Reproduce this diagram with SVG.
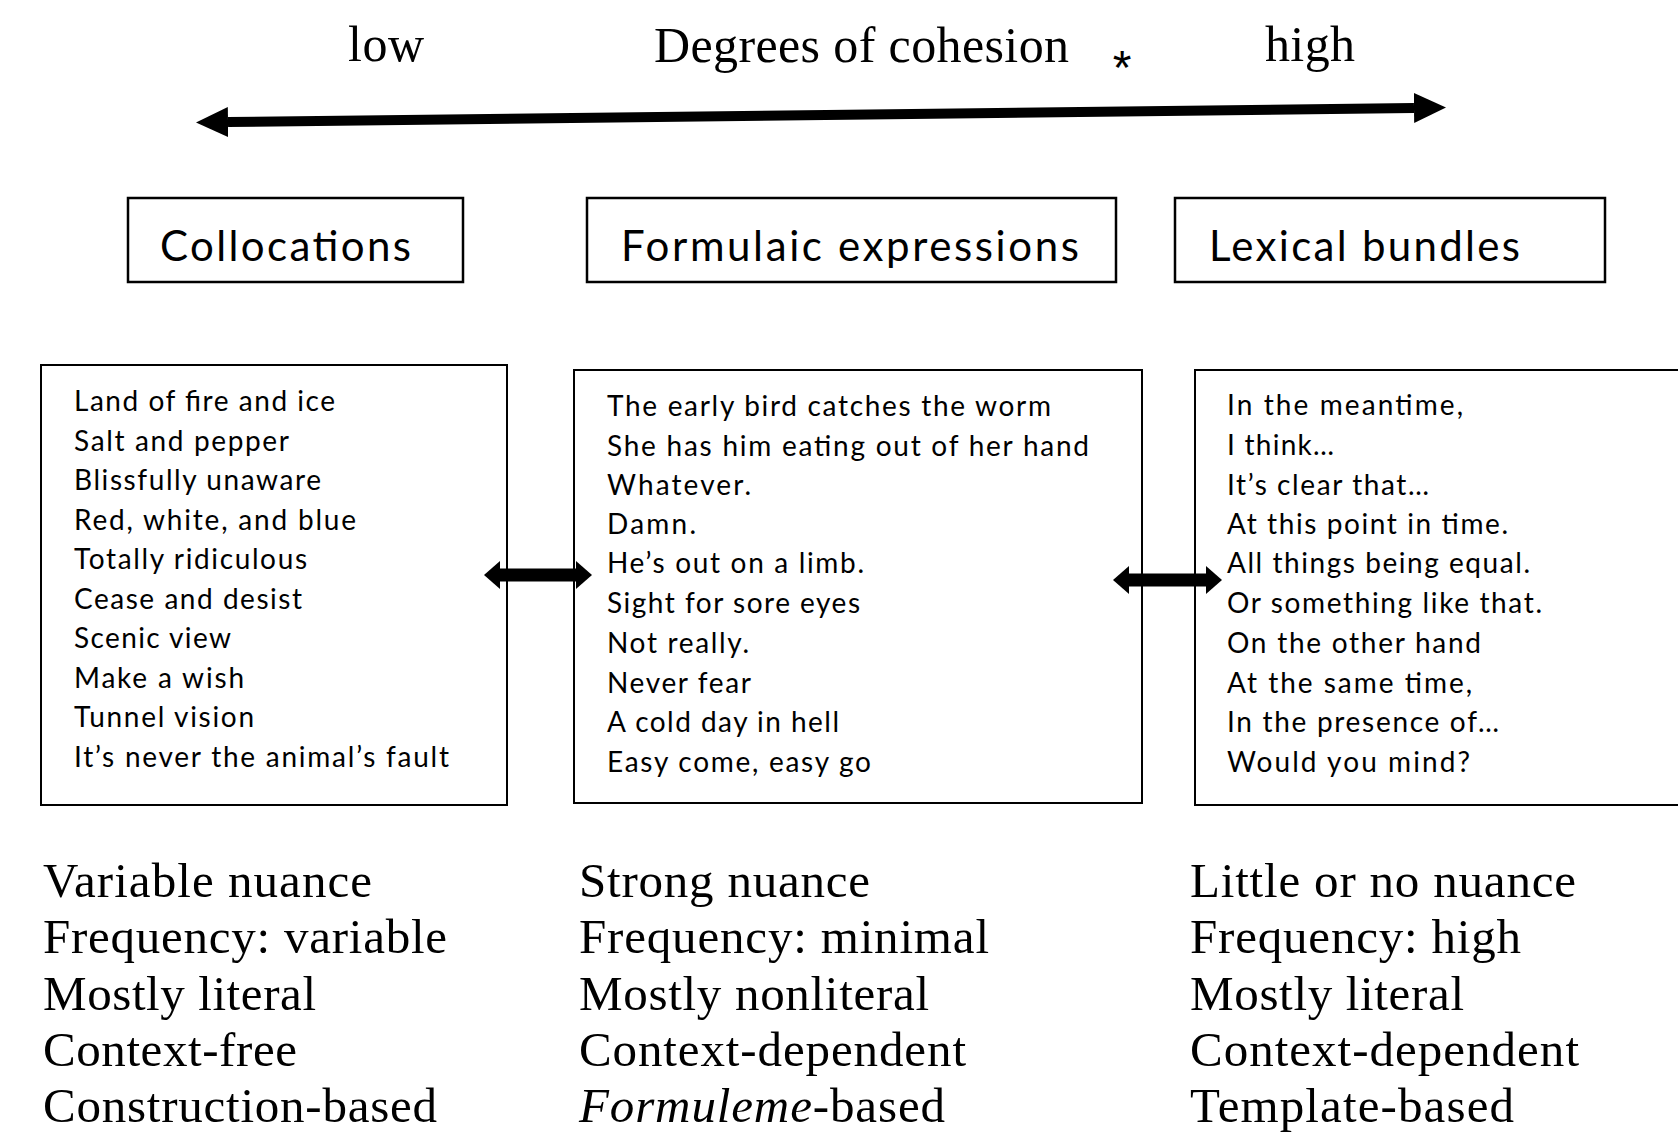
<svg xmlns="http://www.w3.org/2000/svg" width="1678" height="1137" viewBox="0 0 1678 1137">
  <style>
    .serif { font-family: "Liberation Serif", "Times New Roman", serif; fill: #000; }
    .title { font-size: 50px; }
    .prop { font-size: 49px; }
    .hdr { font-family: Lato, "Open Sans", sans-serif; font-size: 42px; fill: #000; }
    .item { font-family: Lato, "Open Sans", sans-serif; font-size: 28px; fill: #000; }
    .hbox { fill: #fff; stroke: #000; stroke-width: 2.5; }
    .cbox { fill: #fff; stroke: #000; stroke-width: 2; }
    .shaft { stroke: #000; fill: none; }
  </style>
  <defs>
    <marker id="bigHead" markerUnits="userSpaceOnUse" markerWidth="32" markerHeight="30" viewBox="0 0 32 30" refX="0" refY="15" orient="auto-start-reverse">
      <path d="M0,0 L32,15 L0,30 Z" fill="#000"/>
    </marker>
    <marker id="smallHead" markerUnits="userSpaceOnUse" markerWidth="16" markerHeight="28" viewBox="0 0 16 28" refX="0" refY="14" orient="auto-start-reverse">
      <path d="M0,0 L16,14 L0,28 Z" fill="#000"/>
    </marker>
  </defs>
  <rect width="1678" height="1137" fill="#fff"/>

  <g id="scale-labels">
    <text class="serif title" x="348" y="61" textLength="76">low</text>
    <text class="serif title" x="654" y="62" textLength="415">Degrees of cohesion</text>
    <text x="1122" y="84" text-anchor="middle" font-family="Liberation Sans, Arial, sans-serif" font-size="48">*</text>
    <text class="serif title" x="1265" y="61" textLength="90">high</text>
  </g>

  <g id="collocations-header">
    <rect class="hbox" x="128" y="198" width="335" height="84"/>
    <text class="hdr" x="160" y="261" textLength="251">Collocations</text>
  </g>
  <g id="formulaic-header">
    <rect class="hbox" x="587" y="198" width="529" height="84"/>
    <text class="hdr" x="621" y="261" textLength="458">Formulaic expressions</text>
  </g>
  <g id="bundles-header">
    <rect class="hbox" x="1175" y="198" width="430" height="84"/>
    <text class="hdr" x="1209" y="261" textLength="311">Lexical bundles</text>
  </g>

  <g id="collocations-examples">
    <rect class="cbox" x="41" y="365" width="466" height="440"/>
    <text class="item" x="74" y="411" textLength="261">Land of fire and ice</text>
    <text class="item" x="74" y="451" textLength="215">Salt and pepper</text>
    <text class="item" x="74" y="490" textLength="247">Blissfully unaware</text>
    <text class="item" x="74" y="530" textLength="282">Red, white, and blue</text>
    <text class="item" x="74" y="569" textLength="233">Totally ridiculous</text>
    <text class="item" x="74" y="609" textLength="228">Cease and desist</text>
    <text class="item" x="74" y="648" textLength="157">Scenic view</text>
    <text class="item" x="74" y="688" textLength="170">Make a wish</text>
    <text class="item" x="74" y="727" textLength="180">Tunnel vision</text>
    <text class="item" x="74" y="767" textLength="375">It’s never the animal’s fault</text>
  </g>

  <g id="formulaic-examples">
    <rect class="cbox" x="574" y="370" width="568" height="433"/>
    <text class="item" x="607" y="416" textLength="444">The early bird catches the worm</text>
    <text class="item" x="607" y="456" textLength="482">She has him eating out of her hand</text>
    <text class="item" x="607" y="495" textLength="144">Whatever.</text>
    <text class="item" x="607" y="534" textLength="89">Damn.</text>
    <text class="item" x="607" y="573" textLength="257">He’s out on a limb.</text>
    <text class="item" x="607" y="613" textLength="253">Sight for sore eyes</text>
    <text class="item" x="607" y="653" textLength="142">Not really.</text>
    <text class="item" x="607" y="693" textLength="144">Never fear</text>
    <text class="item" x="607" y="732" textLength="232">A cold day in hell</text>
    <text class="item" x="607" y="772" textLength="264">Easy come, easy go</text>
  </g>

  <g id="bundles-examples">
    <rect class="cbox" x="1195" y="370" width="500" height="435"/>
    <text class="item" x="1227" y="415" textLength="236">In the meantime,</text>
    <text class="item" x="1227" y="455" textLength="107">I think…</text>
    <text class="item" x="1227" y="495" textLength="202">It’s clear that…</text>
    <text class="item" x="1227" y="534" textLength="281">At this point in time.</text>
    <text class="item" x="1227" y="573" textLength="303">All things being equal.</text>
    <text class="item" x="1227" y="613" textLength="315">Or something like that.</text>
    <text class="item" x="1227" y="653" textLength="254">On the other hand</text>
    <text class="item" x="1227" y="693" textLength="245">At the same time,</text>
    <text class="item" x="1227" y="732" textLength="272">In the presence of…</text>
    <text class="item" x="1227" y="772" textLength="243">Would you mind?</text>
  </g>

  <g id="collocations-properties">
    <text class="serif prop" x="43" y="897" textLength="329">Variable nuance</text>
    <text class="serif prop" x="43" y="953" textLength="404">Frequency: variable</text>
    <text class="serif prop" x="43" y="1010" textLength="273">Mostly literal</text>
    <text class="serif prop" x="43" y="1066" textLength="254">Context-free</text>
    <text class="serif prop" x="43" y="1122" textLength="394">Construction-based</text>
  </g>

  <g id="formulaic-properties">
    <text class="serif prop" x="579" y="897" textLength="291">Strong nuance</text>
    <text class="serif prop" x="579" y="953" textLength="410">Frequency: minimal</text>
    <text class="serif prop" x="579" y="1010" textLength="350">Mostly nonliteral</text>
    <text class="serif prop" x="579" y="1066" textLength="387">Context-dependent</text>
    <text class="serif prop" x="579" y="1122" textLength="366"><tspan font-style="italic">Formuleme</tspan>-based</text>
  </g>

  <g id="bundles-properties">
    <text class="serif prop" x="1190" y="897" textLength="386">Little or no nuance</text>
    <text class="serif prop" x="1190" y="953" textLength="331">Frequency: high</text>
    <text class="serif prop" x="1190" y="1010" textLength="274">Mostly literal</text>
    <text class="serif prop" x="1190" y="1066" textLength="389">Context-dependent</text>
    <text class="serif prop" x="1190" y="1122" textLength="324">Template-based</text>
  </g>

  <g id="connectors">
    <line class="shaft" x1="228" y1="122" x2="1414" y2="108" stroke-width="10" marker-start="url(#bigHead)" marker-end="url(#bigHead)"/>
    <line class="shaft" x1="500" y1="575" x2="576" y2="575" stroke-width="13" marker-start="url(#smallHead)" marker-end="url(#smallHead)"/>
    <line class="shaft" x1="1129" y1="580" x2="1206" y2="580" stroke-width="13" marker-start="url(#smallHead)" marker-end="url(#smallHead)"/>
  </g>
</svg>
